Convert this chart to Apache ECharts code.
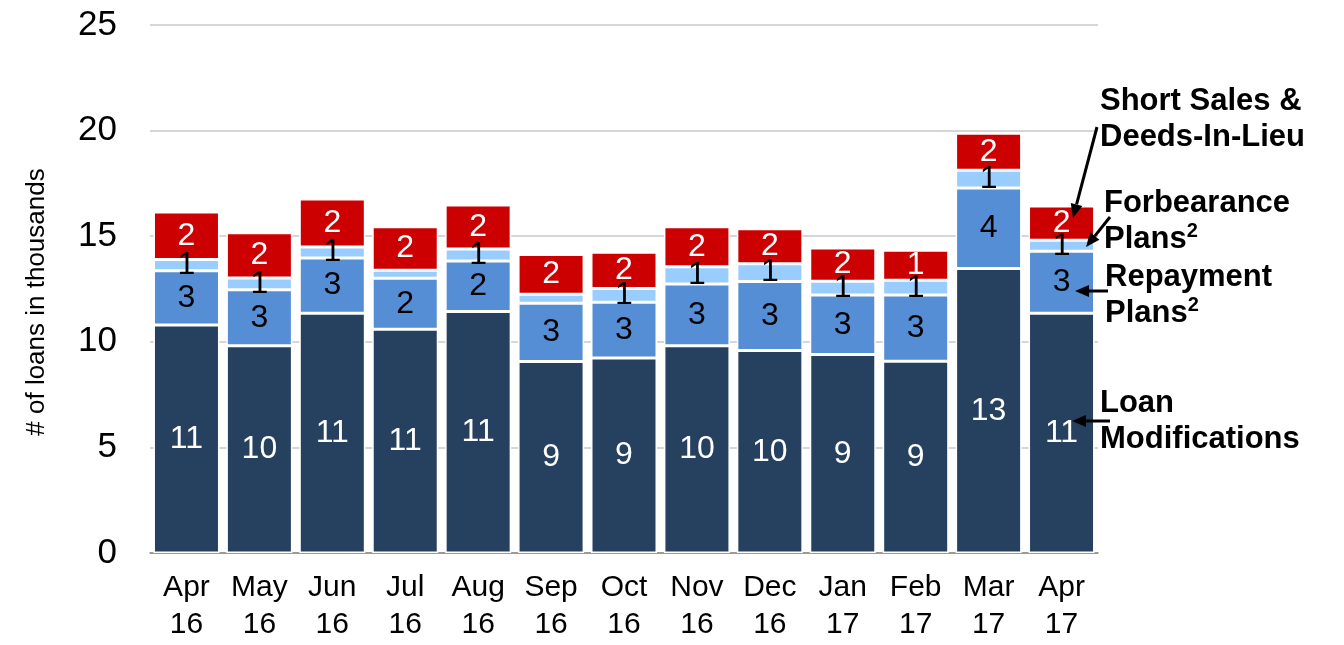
<!DOCTYPE html>
<html>
<head>
<meta charset="utf-8">
<script src="https://cdn.jsdelivr.net/npm/echarts@6/dist/echarts.min.js"></script>
<style>
  html, body { margin: 0; padding: 0; background: #fff; }
  #chart { width: 1344px; height: 645px; }
</style>
</head>
<body>
<div id="chart"></div>
<script>
// loans in thousands
var months = ['Apr\n16', 'May\n16', 'Jun\n16', 'Jul\n16', 'Aug\n16', 'Sep\n16', 'Oct\n16',
              'Nov\n16', 'Dec\n16', 'Jan\n17', 'Feb\n17', 'Mar\n17', 'Apr\n17'];
var loanMods    = [10.79, 9.81, 11.35, 10.59, 11.44, 9.07, 9.23, 9.81, 9.59, 9.40, 9.08, 13.47, 11.35];
var repayment   = [2.58, 2.66, 2.62, 2.42, 2.38, 2.75, 2.64, 2.93, 3.26, 2.81, 3.13, 3.81, 2.94];
var forbearance = [0.53, 0.55, 0.52, 0.38, 0.57, 0.43, 0.65, 0.81, 0.85, 0.66, 0.70, 0.84, 0.52];
var shortSales  = [2.24, 2.14, 2.27, 2.06, 2.09, 1.88, 1.72, 1.90, 1.65, 1.57, 1.42, 1.75, 1.62];
var yTicks = [0, 5, 10, 15, 20, 25];

var FONT = 'Liberation Sans, Arial, sans-serif';

function roundLabel(p) {
    var v = Math.round(p.value);
    return v === 0 ? '' : String(v);
}

function barSeries(name, data, color, labelColor) {
    return {
        name: name,
        type: 'bar',
        stack: 'loans',
        data: data,
        barWidth: 66,
        itemStyle: { color: color, borderColor: '#fff', borderWidth: 1.5 },
        label: {
            show: true,
            position: 'inside',
            formatter: roundLabel,
            color: labelColor,
            fontSize: 32,
            fontFamily: FONT
        }
    };
}

function arrow(x1, y1, x2, y2) {
    var ang = Math.atan2(y2 - y1, x2 - x1);
    var len = 14, half = 6;
    var bx = x2 - len * Math.cos(ang), by = y2 - len * Math.sin(ang);
    var px = -Math.sin(ang) * half, py = Math.cos(ang) * half;
    return {
        type: 'group',
        z: 100,
        children: [
            { type: 'line', z: 100, shape: { x1: x1, y1: y1, x2: bx, y2: by },
              style: { stroke: '#000', lineWidth: 3 } },
            { type: 'polygon', z: 100, shape: { points: [[x2, y2], [bx + px, by + py], [bx - px, by - py]] },
              style: { fill: '#000' } }
        ]
    };
}

function note(x, y, text) {
    return {
        type: 'text', left: x, top: y, z: 100,
        style: {
            text: text, fontSize: 31, fontWeight: 'bold', fontFamily: FONT,
            fill: '#000', lineHeight: 36,
            rich: {
                sup: { fontSize: 20, fontWeight: 'bold', fontFamily: FONT, fill: '#000',
                       verticalAlign: 'top', lineHeight: 36, padding: [0, 0, 14, 0] }
            }
        }
    };
}

var chart = echarts.init(document.getElementById('chart'));
chart.setOption({
    animation: false,
    grid: { left: 150, right: 246, top: 25, bottom: 92 },
    xAxis: {
        type: 'category',
        data: months,
        axisLine: { lineStyle: { color: '#888', width: 1.5 } },
        axisTick: { length: 8, lineStyle: { color: '#888', width: 1.5 } },
        axisLabel: { color: '#000', fontSize: 30, lineHeight: 37, margin: 16, fontFamily: FONT, interval: 0 }
    },
    yAxis: {
        type: 'value',
        min: yTicks[0],
        max: yTicks[yTicks.length - 1],
        interval: 5,
        name: '# of loans in thousands',
        nameLocation: 'middle',
        nameGap: 100,
        nameTextStyle: { fontSize: 26, color: '#000', fontFamily: FONT, padding: [0, 26, 0, 0] },
        axisLine: { show: false },
        axisTick: { show: false },
        axisLabel: { color: '#000', fontSize: 35, margin: 33, fontFamily: FONT },
        splitLine: { lineStyle: { color: '#c8c8c8', width: 1.5 } }
    },
    series: [
        barSeries('Loan Modifications', loanMods, '#26405F', '#fff'),
        barSeries('Repayment Plans', repayment, '#558ED5', '#000'),
        barSeries('Forbearance Plans', forbearance, '#99CCFF', '#000'),
        barSeries('Short Sales & Deeds-In-Lieu', shortSales, '#CC0000', '#fff')
    ],
    graphic: [
        note(1100, 83, 'Short Sales &\nDeeds-In-Lieu'),
        note(1104, 185, 'Forbearance\nPlans{sup|2}'),
        note(1105, 259, 'Repayment\nPlans{sup|2}'),
        note(1100, 385, 'Loan\nModifications'),
        arrow(1097, 127, 1073, 218),
        arrow(1110, 217, 1086, 247),
        arrow(1108, 291, 1075, 291),
        arrow(1110, 421, 1072, 421)
    ]
});
</script>
</body>
</html>
